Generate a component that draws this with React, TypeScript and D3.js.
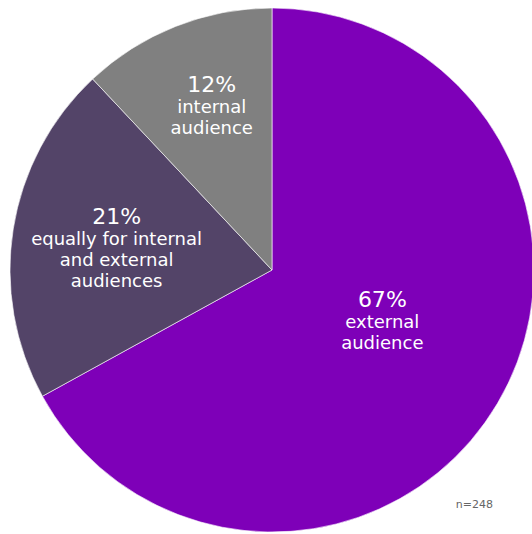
import React from "react";
import * as d3 from "d3";

const categories = ["external audience", "equally for internal and external audiences", "internal audience"];
const values = [67, 21, 12];
const labelLines = [["external", "audience"], ["equally for internal", "and external", "audiences"], ["internal", "audience"]];
const colors = ["#7e00b8", "#534468", "#808080"];
const note = "n=248";

const W = 532, H = 534;
const cx = 272, cy = 270, R = 262;
// label anchors as [radius, angle offset in radians] relative to slice mid-angle
const labelPlace = [
  { r: 120, dAng: -0.13, top: 307 },
  { r: 156, dAng: -0.07, top: 224 },
  { r: 168, dAng: 0.01, top: 92 },
];

export default function App() {
  const pie = d3.pie<number>().sort(null).value((d) => d)(values);
  const arc = d3.arc<d3.PieArcDatum<number>>().innerRadius(0).outerRadius(R);
  return (
    <svg width={W} height={H} style={{ position: "absolute", left: 0, top: 0 }} fontFamily="'DejaVu Sans', sans-serif">
      <rect width={W} height={H} fill="#fff" />
      <g transform={`translate(${cx},${cy})`}>
        {pie.map((p, i) => (
          <path key={categories[i]} d={arc(p) || ""} fill={colors[i]} stroke="#fff" strokeWidth={0.6} />
        ))}
        {pie.map((p, i) => {
          const mid = (p.startAngle + p.endAngle) / 2 + labelPlace[i].dAng;
          const x = Math.sin(mid) * labelPlace[i].r;
          const base = labelPlace[i].top - cy;
          return (
            <g key={"l" + i} fill="#fff" textAnchor="middle">
              <text x={x} y={base} fontSize={22}>{values[i]}%</text>
              {labelLines[i].map((t, j) => (
                <text key={j} x={x} y={base + 21 * (j + 1)} fontSize={18}>{t}</text>
              ))}
            </g>
          );
        })}
      </g>
      <text x={493} y={508} textAnchor="end" fontSize={11} fill="#666">{note}</text>
    </svg>
  );
}
